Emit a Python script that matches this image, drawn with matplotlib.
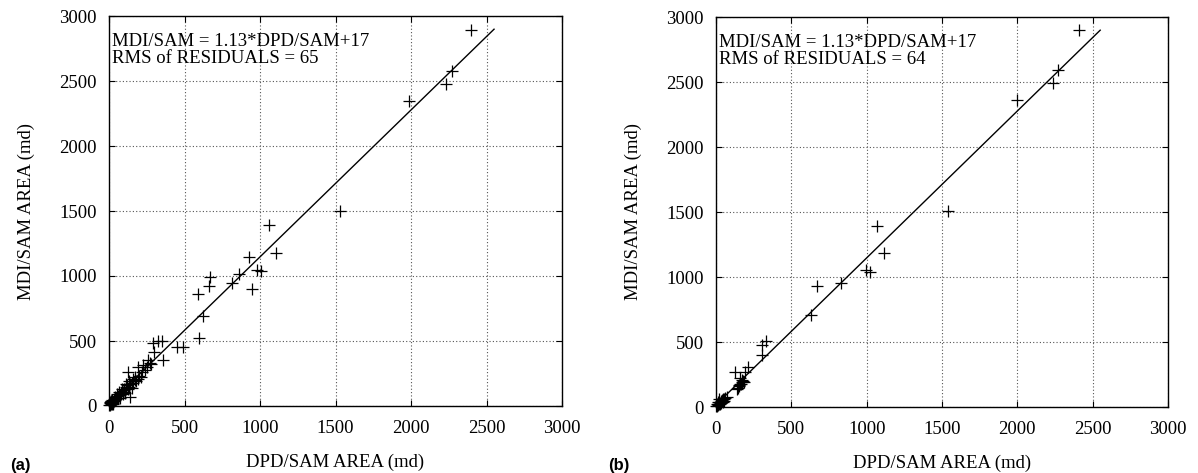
import matplotlib
matplotlib.use("Agg")
import matplotlib.pyplot as plt

# ---- data ----
a_x = [2400, 2270, 2235, 1985, 1530, 1058, 1105, 927, 978, 1006, 863, 816, 945, 669, 662, 591,
       620, 594, 448, 488, 293, 349, 298, 355, 260, 227, 194, 128, 139, 172, 323,
       280, 270, 250, 240, 220, 210, 200, 190, 180, 170, 160, 150, 140, 130, 120, 110, 100,
       160, 150, 135, 125, 115, 105, 95, 90, 85, 80, 75, 70, 65, 60, 55, 50, 45, 40, 35,
       30, 28, 25, 22, 20, 18, 15, 12, 10, 8, 5, 3, 6, 14, 24, 33, 42]
a_y = [2890, 2580, 2480, 2350, 1500, 1390, 1178, 1148, 1048, 1035, 1015, 950, 897, 996, 925, 862,
       692, 520, 456, 456, 487, 502, 418, 354, 354, 315, 302, 264, 72, 225, 500,
       320, 330, 300, 280, 260, 220, 230, 210, 190, 200, 175, 180, 170, 145, 160, 150, 130,
       210, 140, 190, 130, 170, 100, 90, 110, 130, 100, 60, 85, 110, 80, 60, 90, 55, 70, 40,
       45, 20, 30, 50, 25, 15, 20, 40, 12, 30, 10, 5, 20, 35, 18, 55, 48]

b_x = [2410, 2270, 2240, 2000, 1543, 1067, 1118, 996, 1023, 828, 668, 631,
       303, 332, 308, 215, 193, 126, 159, 71,
       180, 170, 165, 155, 150, 145, 140, 175, 160, 185,
       60, 55, 50, 45, 40, 35, 30, 25, 20, 18, 15, 12, 10, 8, 5, 3, 22, 28, 38, 48]
b_y = [2900, 2590, 2490, 2360, 1507, 1394, 1182, 1053, 1040, 956, 931, 707,
       477, 510, 400, 310, 272, 272, 220, 79,
       200, 190, 180, 170, 160, 150, 140, 210, 175, 195,
       70, 50, 60, 40, 55, 30, 45, 25, 35, 20, 40, 15, 25, 10, 20, 5, 60, 30, 50, 65]

slope, intercept = 1.13, 17
fit_x = [0, 2550]
ticks = [0, 500, 1000, 1500, 2000, 2500, 3000]
eq_text = "MDI/SAM = 1.13*DPD/SAM+17"
rms_a, rms_b = 65, 64
panel_labels = ["(a)", "(b)"]

serif = ["Liberation Serif", "DejaVu Serif"]
plt.rcParams["font.family"] = serif

fig = plt.figure(figsize=(11.98, 4.73), dpi=100)
W, H = 1198, 473
boxes = [(109, 16, 562, 406), (716, 17, 1168, 407)]
datasets = [(a_x, a_y, rms_a), (b_x, b_y, rms_b)]

for i, ((l, t, r, b), (xs, ys, rms)) in enumerate(zip(boxes, datasets)):
    ax = fig.add_axes([l / W, 1 - b / H, (r - l) / W, (b - t) / H])
    ax.set_xlim(0, 3000)
    ax.set_ylim(0, 3000)
    ax.set_xticks(ticks)
    ax.set_yticks(ticks)
    ax.grid(True, linestyle=(0, (1, 2)), color="#555555", linewidth=0.8)
    ax.tick_params(direction="in", length=4, width=0.8, top=True, right=True,
                   labelsize=13.5, pad=9)
    ax.tick_params(axis="x", pad=10)
    for s in ax.spines.values():
        s.set_linewidth(1.0)
    fy = [slope * v + intercept for v in fit_x]
    ax.plot(fit_x, fy, color="black", linewidth=1.0, zorder=3)
    ax.plot(xs, ys, linestyle="none", marker="+", markersize=9, mew=0.9,
            color="black", zorder=4, clip_on=False)
    ax.text(0.006, 1 - 17 / 390, eq_text + "\n" + "RMS of RESIDUALS = %d" % rms,
            transform=ax.transAxes, va="top", ha="left", fontsize=13.5,
            linespacing=1.0)
    ax.set_xlabel("DPD/SAM AREA (md)", fontsize=13.5, labelpad=12)
    ax.set_ylabel("MDI/SAM AREA (md)", fontsize=13.5, labelpad=17)
    fig.text((10 if i == 0 else 608) / W, 1 - 470 / H, panel_labels[i],
             family=["Liberation Sans", "DejaVu Sans"], weight="bold",
             fontsize=12, ha="left", va="baseline")

fig.savefig("out.png", dpi=100)
